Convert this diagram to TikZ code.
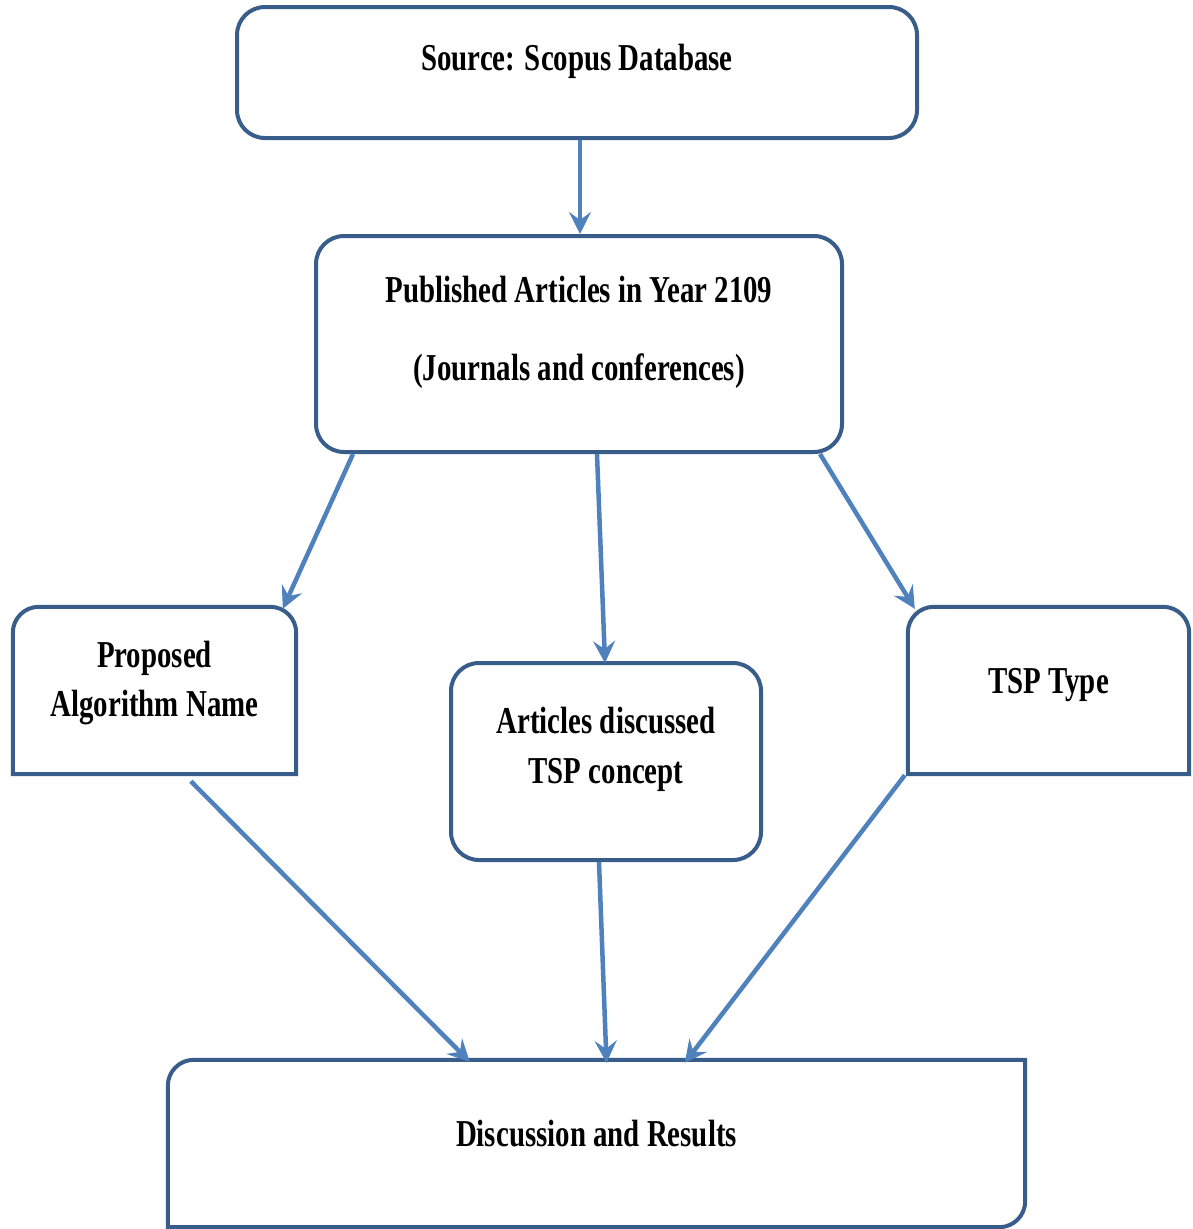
\documentclass[tikz,border=0pt]{standalone}
\usepackage{fontspec}
\setmainfont{Liberation Serif}[FakeStretch=0.76]
\usetikzlibrary{arrows.meta}

\definecolor{boxblue}{RGB}{56,93,138}
\definecolor{arrowblue}{RGB}{79,129,189}

\tikzset{
    boxline/.style   = {draw=boxblue, line width=4pt},
    boxarea/.style   = {rectangle, inner sep=0pt, minimum width=#1},
    roundbox/.style  = {boxline, rounded corners=28pt},
    label txt/.style = {font=\fontsize{38}{50}\selectfont\bfseries, align=center, inner sep=0pt},
    flow/.style      = {draw=arrowblue, line width=4.5pt, -{Stealth[length=22pt,width=22pt,inset=8pt]}}
}

\begin{document}
\begin{tikzpicture}[x=1pt, y=-1pt]
    \useasboundingbox (0,0) rectangle (1192,1229);

    % boxes
    \node[boxarea=680pt, roundbox, minimum height=131pt] (src)  at (577,72.5)   {};
    \node[boxarea=526pt, roundbox, minimum height=216pt] (pub)  at (579,344)    {};
    \node[boxarea=283pt, minimum height=167pt]           (alg)  at (154.5,690.5) {};
    \node[boxarea=310pt, roundbox, minimum height=197pt] (art)  at (606,761.5)  {};
    \node[boxarea=281pt, minimum height=167pt]           (tsp)  at (1048.5,690.5) {};
    \node[boxarea=857pt, minimum height=167pt]           (res)  at (596.5,1143.5) {};

    % box outlines with mixed corners
    \draw[boxline] (alg.south west) [rounded corners=26pt] -- (alg.north west) -- (alg.north east) [sharp corners] -- (alg.south east) -- cycle;
    \draw[boxline] (tsp.south west) [rounded corners=26pt] -- (tsp.north west) -- (tsp.north east) [sharp corners] -- (tsp.south east) -- cycle;
    \draw[boxline] (res.south west) [rounded corners=26pt] -- (res.north west) [sharp corners] -- (res.north east) [rounded corners=26pt] -- (res.south east) [sharp corners] -- cycle;

    % texts
    \node[label txt] (srctxt) at (577,61)   {Source: Scopus Database};
    \node[label txt] (pubtxt) at (579,332)  {Published Articles in Year 2109\\[28pt](Journals and conferences)};
    \node[label txt] (algtxt) at (154.5,683) {Proposed\\Algorithm Name};
    \node[label txt] (arttxt) at (606,749)  {Articles discussed\\TSP concept};
    \node[label txt] (tsptxt) at (1048.5,685) {TSP Type};
    \node[label txt] (restxt) at (596.5,1134) {Discussion and Results};

    % connectors
    \draw[flow] ([xshift=3pt]src.south) -- ([xshift=1pt]pub.north);
    \draw[flow] ([xshift=39pt]pub.south west) -- ([xshift=270pt,yshift=-2pt]alg.north west);
    \draw[flow] ([xshift=18pt]pub.south) -- ([xshift=-1pt,yshift=-2pt]art.north);
    \draw[flow] ([xshift=-24pt]pub.south east) -- ([xshift=7pt,yshift=-2pt]tsp.north west);
    \draw[flow] ([xshift=178pt,yshift=-7pt]alg.south west) -- ([xshift=302pt,yshift=-2pt]res.north west);
    \draw[flow] ([xshift=-7pt]art.south) -- ([xshift=10pt,yshift=-3pt]res.north);
    \draw[flow] ([xshift=-3pt,yshift=-1pt]tsp.south west) -- ([xshift=517pt,yshift=-3pt]res.north west);
\end{tikzpicture}
\end{document}
